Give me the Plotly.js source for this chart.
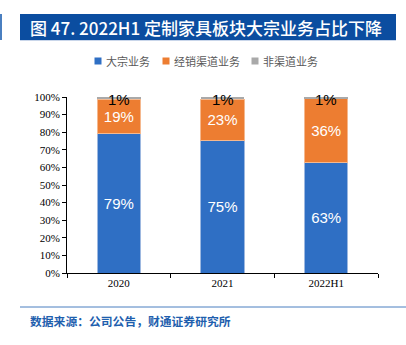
<!DOCTYPE html>
<html><head><meta charset="utf-8">
<script src="https://cdn.plot.ly/plotly-3.0.1.min.js"></script>
<style>html,body{margin:0;padding:0;background:#fff;}#c{width:406px;height:345px;}</style>
</head><body><div id="c"></div>
<script>
var categories = ['2020', '2021', '2022H1'];
var bulkShare = [79.4, 75.4, 62.9];
var dealerShare = [19.4, 23.4, 36.0];
var otherShare = [1.2, 1.2, 1.1];
var seriesNames = ['大宗业务', '经销渠道业务', '非渠道业务'];
var seriesColors = ['#2F6FC4', '#ED7D31', '#A9A9A9'];
var yTickVals = [0,10,20,30,40,50,60,70,80,90,100];
var yTickText = ['0%','10%','20%','30%','40%','50%','60%','70%','80%','90%','100%'];

var L=67, R=378, T=97, B=273;
function px(x){return (x-L)/(R-L);}
function py(y){return (B-y)/(B-T);}

var labelFont = {family:'Liberation Sans, Arial, sans-serif', size:15};
var traces = [
 {type:'bar', name:seriesNames[0], x:categories, y:bulkShare, marker:{color:seriesColors[0], line:{color:'#9DB8E0', width:1}},
  texttemplate:'%{y:.0f}%', textposition:'inside', insidetextanchor:'middle', constraintext:'none', textangle:0,
  insidetextfont:Object.assign({color:'#ffffff'}, labelFont), hoverinfo:'skip'},
 {type:'bar', name:seriesNames[1], x:categories, y:dealerShare, marker:{color:seriesColors[1], line:{color:'#F5B88E', width:1}},
  texttemplate:'%{y:.0f}%', textposition:'inside', insidetextanchor:'middle', constraintext:'none', textangle:0,
  insidetextfont:Object.assign({color:'#ffffff'}, labelFont), hoverinfo:'skip'},
 {type:'bar', name:seriesNames[2], x:categories, y:otherShare, marker:{color:seriesColors[2], line:{width:0}},
  textposition:'none', hoverinfo:'skip'}
];

var annotations = [
  {xref:'paper', yref:'paper', x:px(28), y:py(27), xanchor:'left', yanchor:'middle', showarrow:false,
   text:'图 47. 2022H1 定制家具板块大宗业务占比下降', font:{family:'Noto Sans CJK SC, sans-serif', size:17, weight:500, color:'#ffffff'}},
  {xref:'paper', yref:'paper', x:px(28), y:py(320), xanchor:'left', yanchor:'middle', showarrow:false,
   text:'<b>数据来源：公司公告，财通证券研究所</b>', font:{family:'Noto Sans CJK SC, sans-serif', size:11.8, color:'#1F5FAE'}}
];
// labels for the thin top segment, placed through the data axes (category index)
categories.forEach(function(c, i){
  var top = bulkShare[i] + dealerShare[i] + otherShare[i];
  annotations.push({xref:'x', yref:'y', x:i, y:top - otherShare[i]/2 - 0.8, text:Math.round(otherShare[i]) + '%',
    showarrow:false, xanchor:'center', yanchor:'middle', font:{family:'Liberation Sans, Arial, sans-serif', size:15, color:'#000'}});
});

var shapes = [
  {type:'rect', xref:'paper', yref:'paper', x0:px(20), x1:px(396), y0:py(14), y1:py(40), fillcolor:'#0B4DA0', line:{width:0}, layer:'below'},
  {type:'line', xref:'paper', yref:'paper', x0:px(20), x1:px(396), y0:py(40.5), y1:py(40.5), line:{color:'#C9D6EA', width:1}},
  {type:'rect', xref:'paper', yref:'paper', x0:px(0), x1:px(2), y0:py(14), y1:py(40), fillcolor:'#4A7FC0', line:{width:0}},
  {type:'line', xref:'paper', yref:'paper', x0:px(20), x1:px(406), y0:py(307), y1:py(307), line:{color:'#4A7FC0', width:1}}
];
// custom legend (compact, as in the reference)
var legendX = [94.5, 162.5, 251.5];
seriesNames.forEach(function(n, i){
  shapes.push({type:'rect', xref:'paper', yref:'paper', x0:px(legendX[i]), x1:px(legendX[i]+7), y0:py(57.5), y1:py(64.5),
    fillcolor:seriesColors[i], line:{width:0}});
  annotations.push({xref:'paper', yref:'paper', x:px(legendX[i]+9.5), y:py(61), xanchor:'left', yanchor:'middle', showarrow:false,
    text:n, font:{family:'Noto Sans CJK SC, sans-serif', size:11, color:'#595959'}});
});

var layout = {
 width:406, height:345, margin:{l:L, r:406-R, t:T, b:345-B},
 paper_bgcolor:'#ffffff', plot_bgcolor:'#ffffff',
 barmode:'stack', bargap:0.58, showlegend:false,
 xaxis:{type:'category', showline:true, linecolor:'#000', linewidth:1, ticks:'outside', ticklen:4, tickcolor:'#000',
   tickson:'boundaries', tickfont:{family:'Liberation Serif, Times New Roman, serif', size:11, color:'#000'},
   showgrid:false, fixedrange:true},
 yaxis:{range:[0,100], tickvals:yTickVals, ticktext:yTickText, showline:true, linecolor:'#000', linewidth:1,
   ticks:'outside', ticklen:4, tickcolor:'#000', showgrid:false, zeroline:false,
   tickfont:{family:'Liberation Serif, Times New Roman, serif', size:11, color:'#000'}, fixedrange:true},
 shapes:shapes, annotations:annotations
};
Plotly.newPlot('c', traces, layout, {displayModeBar:false, staticPlot:true});
</script></body></html>
